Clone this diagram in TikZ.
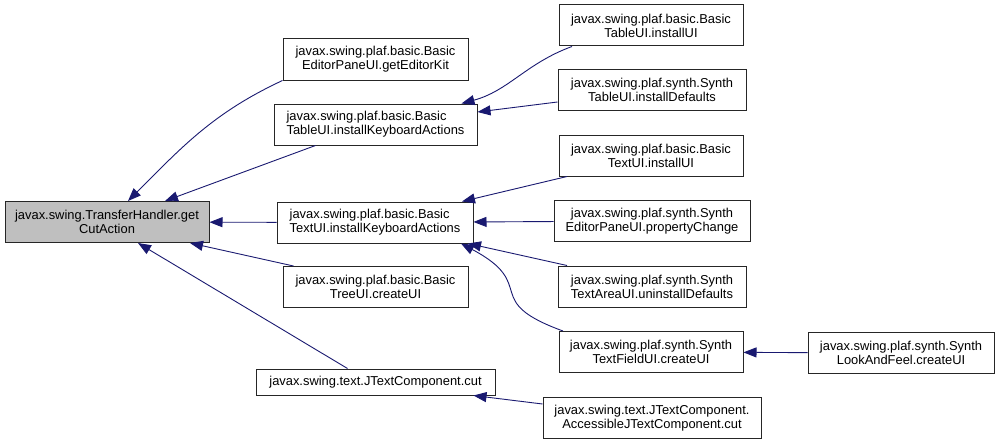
\documentclass[tikz,border=0pt]{standalone}
\usepackage{fontspec}
\setmainfont{Liberation Sans}
\usepackage{xcolor}
\usepackage{tikz}
\usetikzlibrary{arrows.meta,positioning,calc}
\definecolor{edgeblue}{HTML}{191970}
\definecolor{rootgray}{HTML}{BFBFBF}

\begin{document}
\begin{tikzpicture}[
    x=1pt, y=-1pt,
    fnbox/.style={rectangle, draw=black!85, line width=1pt, fill=white, align=center, minimum height=41pt, inner sep=0pt, font=\fontsize{12.9}{14}\selectfont},
    rootbox/.style={fnbox, fill=rootgray},
    arrow/.style={-{Triangle[length=13pt, width=10pt]}, line width=0.9pt, draw=edgeblue}
]
    \useasboundingbox (0,0) rectangle (1001,444);

    \node [rootbox, minimum width=204pt] (n0) at (107,222) {javax.swing.TransferHandler.get\\CutAction};

    \node [fnbox, minimum width=185pt] (n1) at (375.5,59.5) {javax.swing.plaf.basic.Basic\\EditorPaneUI.getEditorKit};
    \node [fnbox, minimum width=203pt, align=left] (n2) at (375.5,124.5) {javax.swing.plaf.basic.Basic\\TableUI.installKeyboardActions};
    \node [fnbox, minimum width=196pt, align=left] (n3) at (375,222.5) {javax.swing.plaf.basic.Basic\\TextUI.installKeyboardActions};
    \node [fnbox, minimum width=185pt] (n4) at (375.5,287) {javax.swing.plaf.basic.Basic\\TreeUI.createUI};
    \node [fnbox, minimum width=239pt, minimum height=26pt] (n5) at (375.5,382) {javax.swing.text.JTextComponent.cut};

    \node [fnbox, minimum width=184pt] (n6) at (651,25.5) {javax.swing.plaf.basic.Basic\\TableUI.installUI};
    \node [fnbox, minimum width=188pt] (n7) at (652,90) {javax.swing.plaf.synth.Synth\\TableUI.installDefaults};
    \node [fnbox, minimum width=184pt] (n8) at (651,155.5) {javax.swing.plaf.basic.Basic\\TextUI.installUI};
    \node [fnbox, minimum width=196pt] (n9) at (652,221) {javax.swing.plaf.synth.Synth\\EditorPaneUI.propertyChange};
    \node [fnbox, minimum width=188pt] (n10) at (652,286.5) {javax.swing.plaf.synth.Synth\\TextAreaUI.uninstallDefaults};
    \node [fnbox, minimum width=184pt] (n11) at (651,352) {javax.swing.plaf.synth.Synth\\TextFieldUI.createUI};
    \node [fnbox, minimum width=218pt] (n12) at (652,418) {javax.swing.text.JTextComponent.\\AccessibleJTextComponent.cut};

    \node [fnbox, minimum width=186pt] (n13) at (901,353) {javax.swing.plaf.synth.Synth\\LookAndFeel.createUI};

    % callers of getCutAction
    \draw [arrow] (n1.south west) to[out=205, in=45] ([xshift=21pt]n0.north);
    \draw [arrow] ([xshift=-60pt]n2.south) -- ([xshift=58pt]n0.north);
    \draw [arrow] (n3) -- (n0);
    \draw [arrow] ([xshift=-82pt]n4.north) -- ([xshift=83pt]n0.south);
    \draw [arrow] ([xshift=-28pt]n5.north) -- ([xshift=31pt]n0.south);

    % second level
    \draw [arrow] ([xshift=-79pt]n6.south) to[out=200, in=15] ([xshift=86pt]n2.north);
    \draw [arrow] ([yshift=-12pt]n7.west) -- ([yshift=12.5pt]n2.east);
    \draw [arrow] ([xshift=-84pt]n8.south) -- ([xshift=87pt]n3.north);
    \draw [arrow] (n9) -- (n3);
    \draw [arrow] ([xshift=-85pt]n10.north) -- ([xshift=93pt]n3.south);
    \draw [arrow] ([xshift=-88pt]n11.north) to[out=160, in=-28, looseness=1.7] ([xshift=86pt]n3.south);
    \draw [arrow] ([yshift=14pt]n12.west) -- ([xshift=98pt]n5.south);

    % third level
    \draw [arrow] (n13) -- (n11);
\end{tikzpicture}
\end{document}
